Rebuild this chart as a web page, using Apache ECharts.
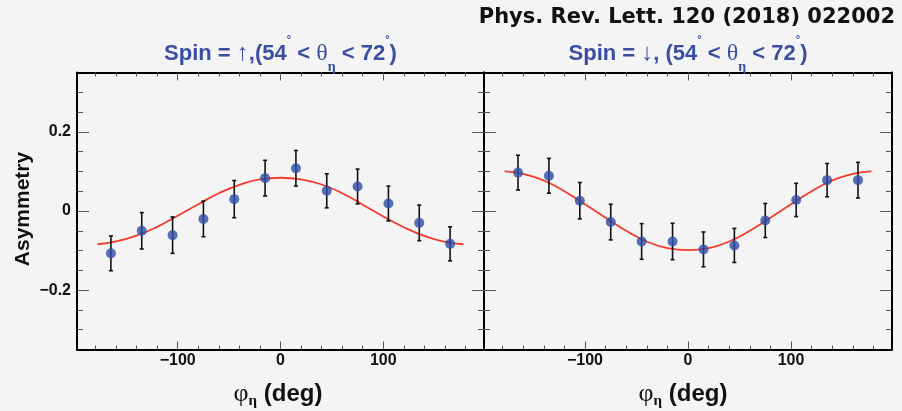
<!DOCTYPE html>
<html>
<head>
<meta charset="utf-8">
<script src="https://cdn.jsdelivr.net/npm/echarts@6/dist/echarts.min.js"></script>
<style>
html,body{margin:0;padding:0;background:#f4f4f4;}
#chart{width:902px;height:411px;}
</style>
</head>
<body>
<div id="chart"></div>
<script>
// ---- data ----
const phiBins = [-165, -135, -105, -75, -45, -15, 15, 45, 75, 105, 135, 165];
const asymUp = [-0.107, -0.050, -0.061, -0.020, 0.030, 0.083, 0.108, 0.051, 0.062, 0.019, -0.030, -0.083];
const errUp = [0.044, 0.046, 0.046, 0.045, 0.047, 0.045, 0.045, 0.043, 0.044, 0.044, 0.045, 0.043];
const asymDown = [0.097, 0.089, 0.026, -0.028, -0.077, -0.077, -0.097, -0.087, -0.024, 0.028, 0.078, 0.078];
const errDown = [0.044, 0.044, 0.046, 0.045, 0.045, 0.046, 0.044, 0.043, 0.043, 0.042, 0.042, 0.045];
const fitPhi = [-178, -160, -140, -120, -100, -80, -60, -40, -20, 0, 20, 40, 60, 80, 100, 120, 140, 160, 178];
const fitUp = [-0.084, -0.077, -0.062, -0.040, -0.012, 0.017, 0.045, 0.066, 0.080, 0.084, 0.080, 0.067, 0.045, 0.016, -0.014, -0.041, -0.063, -0.078, -0.084];
const fitDown = [0.100, 0.094, 0.077, 0.050, 0.017, -0.017, -0.050, -0.077, -0.094, -0.099, -0.094, -0.077, -0.050, -0.017, 0.017, 0.050, 0.077, 0.094, 0.100];
const xMajorTicks = [-100, 0, 100];
const xMinorTicks = [-180, -160, -140, -120, -80, -60, -40, -20, 20, 40, 60, 80, 120, 140, 160, 180];
const yMajorTicks = [-0.2, 0, 0.2];
const yMinorTicks = [-0.3, -0.25, -0.15, -0.1, -0.05, 0.05, 0.1, 0.15, 0.25, 0.3];
const xRange = [-198, 198];
const yRange = [-0.35, 0.35];
const titleUpText = '{b|Spin = }{g|↑}{b|,(54}{sup|°}{b| < }{g|θ}{sub|η}{b| < 72}{sup|°}{b|)}';
const titleDownText = '{b|Spin = }{g|↓}{b|, (54}{sup|°}{b| < }{g|θ}{sub|η}{b| < 72}{sup|°}{b|)}';
const xNameText = '{g|φ}{sub|η}{b| (deg)}';
const yNameText = 'Asymmetry';
const refText = 'Phys. Rev. Lett. 120 (2018) 022002';

// ---- styling / layout ----
const BLUE = '#3a4fa2';
const grids = [
  {left: 77, top: 72.5, width: 407, height: 277},
  {left: 484, top: 72.5, width: 408, height: 277}
];
const minusFmt = v => (v < 0 ? '\u2212' : '') + Math.abs(v);
const lineStyleAxis = {color: '#000', width: 2};
const tickStyle = {color: '#555', width: 1};

function xAxesFor(g) {
  const base = {type: 'value', gridIndex: g, min: xRange[0], max: xRange[1], splitLine: {show: false}};
  return [
    Object.assign({}, base, {position: 'bottom',
      axisLine: {show: true, onZero: false, lineStyle: lineStyleAxis},
      axisTick: {show: true, inside: true, length: 8, customValues: xMajorTicks, lineStyle: tickStyle},
      axisLabel: {show: true, customValues: xMajorTicks, formatter: minusFmt, margin: 3,
        fontFamily: 'Liberation Sans', fontWeight: 'bold', fontSize: 16, color: '#111'}}),
    Object.assign({}, base, {position: 'bottom',
      axisLine: {show: false, onZero: false},
      axisTick: {show: true, inside: true, length: 4, customValues: xMinorTicks, lineStyle: tickStyle},
      axisLabel: {show: false}}),
    Object.assign({}, base, {position: 'top',
      axisLine: {show: true, onZero: false, lineStyle: lineStyleAxis},
      axisTick: {show: true, inside: true, length: 8, customValues: xMajorTicks, lineStyle: tickStyle},
      axisLabel: {show: false}}),
    Object.assign({}, base, {position: 'top',
      axisLine: {show: false, onZero: false},
      axisTick: {show: true, inside: true, length: 4, customValues: xMinorTicks, lineStyle: tickStyle},
      axisLabel: {show: false}})
  ];
}
function yAxesFor(g) {
  const base = {type: 'value', gridIndex: g, min: yRange[0], max: yRange[1], splitLine: {show: false}};
  return [
    Object.assign({}, base, {position: 'left',
      axisLine: {show: true, onZero: false, lineStyle: lineStyleAxis},
      axisTick: {show: true, inside: true, length: 12, customValues: yMajorTicks, lineStyle: tickStyle},
      axisLabel: {show: g === 0, customValues: yMajorTicks, formatter: minusFmt, margin: 6,
        fontFamily: 'Liberation Sans', fontWeight: 'bold', fontSize: 16, color: '#111'}}),
    Object.assign({}, base, {position: 'left',
      axisLine: {show: false, onZero: false},
      axisTick: {show: true, inside: true, length: 6, customValues: yMinorTicks, lineStyle: tickStyle},
      axisLabel: {show: false}}),
    Object.assign({}, base, {position: 'right',
      axisLine: {show: true, onZero: false, lineStyle: lineStyleAxis},
      axisTick: {show: true, inside: true, length: 12, customValues: yMajorTicks, lineStyle: tickStyle},
      axisLabel: {show: false}}),
    Object.assign({}, base, {position: 'right',
      axisLine: {show: false, onZero: false},
      axisTick: {show: true, inside: true, length: 6, customValues: yMinorTicks, lineStyle: tickStyle},
      axisLabel: {show: false}})
  ];
}

function renderErr(params, api) {
  const x = api.value(0), y = api.value(1), e = api.value(2);
  const p1 = api.coord([x, y + e]);
  const p2 = api.coord([x, y - e]);
  const s = {stroke: '#111', lineWidth: 1.6};
  return {type: 'group', children: [
    {type: 'line', shape: {x1: p1[0], y1: p1[1], x2: p2[0], y2: p2[1]}, style: s},
    {type: 'line', shape: {x1: p1[0] - 2, y1: p1[1], x2: p1[0] + 2, y2: p1[1]}, style: s},
    {type: 'line', shape: {x1: p2[0] - 2, y1: p2[1], x2: p2[0] + 2, y2: p2[1]}, style: s}
  ]};
}

function seriesFor(g, vals, errs, fit) {
  const ax = {xAxisIndex: 4 * g, yAxisIndex: 4 * g};
  return [
    Object.assign({type: 'line', smooth: true, showSymbol: false, z: 2,
      lineStyle: {color: '#f03c2c', width: 1.8},
      data: fitPhi.map((x, i) => [x, fit[i]])}, ax),
    Object.assign({type: 'custom', z: 3, renderItem: renderErr, encode: {x: 0, y: 1},
      data: phiBins.map((x, i) => [x, vals[i], errs[i]])}, ax),
    Object.assign({type: 'scatter', z: 4, symbol: 'circle', symbolSize: 10,
      itemStyle: {color: '#2f4ea6'},
      data: phiBins.map((x, i) => [x, vals[i]])}, ax)
  ];
}

const titleRich = {
  b: {fontFamily: 'Liberation Sans', fontWeight: 'bold', fontSize: 22, color: BLUE, lineHeight: 40},
  g: {fontFamily: 'Liberation Serif', fontWeight: 'normal', fontSize: 24, color: BLUE, lineHeight: 40},
  sup: {fontFamily: 'Liberation Sans', fontSize: 11, color: BLUE, lineHeight: 12, verticalAlign: 'top'},
  sub: {fontFamily: 'Liberation Serif', fontSize: 14, color: BLUE, lineHeight: 28, verticalAlign: 'bottom'}
};
const xNameRich = {
  b: {fontFamily: 'Liberation Sans', fontWeight: 'bold', fontSize: 24, color: '#111', lineHeight: 30},
  g: {fontFamily: 'Liberation Serif', fontWeight: 'normal', fontSize: 26, color: '#111', lineHeight: 30},
  sub: {fontFamily: 'Liberation Serif', fontSize: 15, color: '#111', lineHeight: 10, verticalAlign: 'bottom'}
};

const option = {
  backgroundColor: '#f4f4f4',
  animation: false,
  title: [
    {text: titleUpText, left: 280.5, top: 34, textAlign: 'center', padding: 0, textStyle: {rich: titleRich}},
    {text: titleDownText, left: 688, top: 34, textAlign: 'center', padding: 0, textStyle: {rich: titleRich}},
    {text: refText, right: 7, top: 7, padding: 0,
      textStyle: {fontFamily: 'DejaVu Sans', fontWeight: 'bold', fontSize: 21, color: '#111'}},
    {text: xNameText, left: 278, top: 379, textAlign: 'center', padding: 0, textStyle: {rich: xNameRich}},
    {text: xNameText, left: 683, top: 379, textAlign: 'center', padding: 0, textStyle: {rich: xNameRich}}
  ],
  graphic: [
    {type: 'text', x: 23, y: 209, rotation: Math.PI / 2,
      style: {text: yNameText, font: 'bold 21px "Liberation Sans"', fill: '#111', align: 'center', verticalAlign: 'middle'}}
  ],
  grid: grids,
  xAxis: xAxesFor(0).concat(xAxesFor(1)),
  yAxis: yAxesFor(0).concat(yAxesFor(1)),
  series: seriesFor(0, asymUp, errUp, fitUp).concat(seriesFor(1, asymDown, errDown, fitDown))
};

const chart = echarts.init(document.getElementById('chart'), null, {renderer: 'canvas'});
chart.setOption(option);
</script>
</body>
</html>
